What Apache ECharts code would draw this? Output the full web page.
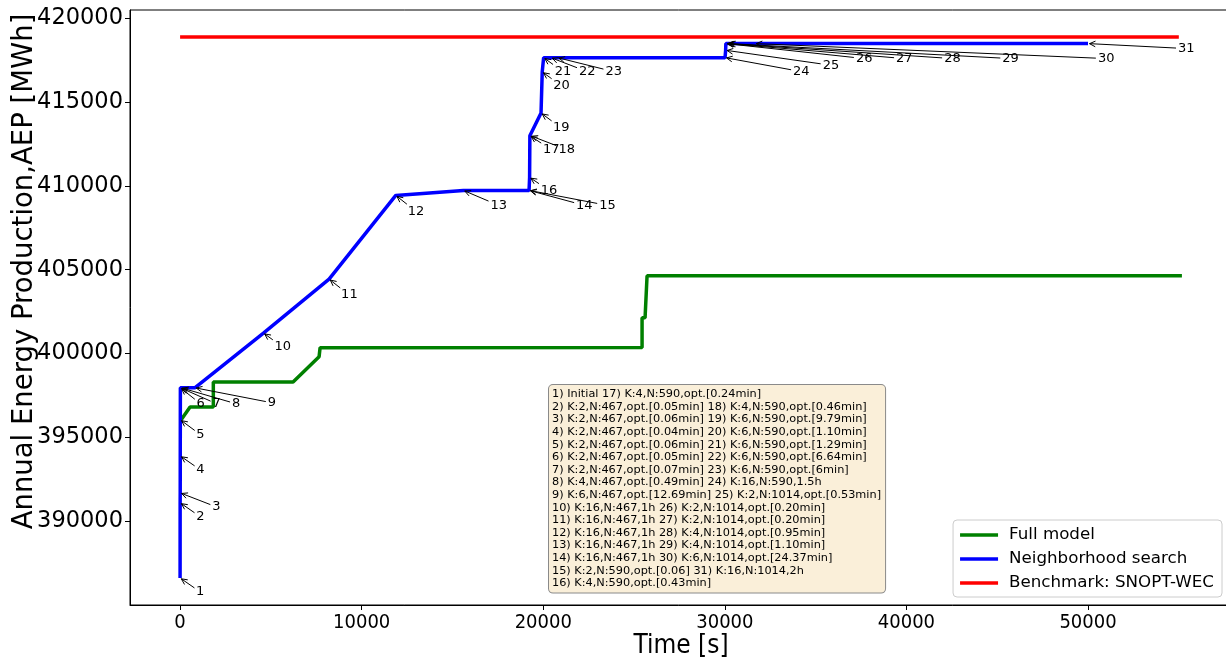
<!DOCTYPE html>
<html>
<head>
<meta charset="utf-8">
<script src="https://cdn.jsdelivr.net/npm/echarts@6/dist/echarts.min.js"></script>
<style>
html,body{margin:0;padding:0;background:#fff;}
#chart{width:1226px;height:658px;}
</style>
</head>
<body>
<div id="chart"></div>
<script>
// ---- data ----
const nsTime = [0, 3, 6.6, 9, 12.6, 15.6, 19.8, 49.2, 810, 4590, 8205, 11878, 15600, 19218, 19222, 19248, 19262, 19290, 19877, 19943, 20020, 20418, 20778, 30011, 30043, 30055, 30067, 30124, 30190, 31652, 50000];
const nsAEP = [386590, 391080, 391670, 393880, 396040, 397950, 397950, 397950, 397950, 401220, 404440, 409440, 409740, 409740, 409740, 410520, 413010, 413010, 414360, 416820, 417670, 417670, 417670, 417670, 418110, 418510, 418510, 418510, 418510, 418510, 418510];
const fullTime = [60, 550, 1830, 1830, 6222, 7654, 7709, 25441, 25441, 25606, 25716, 55170];
const fullAEP = [396040, 396800, 396800, 398300, 398300, 399800, 400340, 400360, 402130, 402130, 404640, 404640];
const benchTime = [0, 55000];
const benchAEP = [418900, 418900];
const xTicks = [0, 10000, 20000, 30000, 40000, 50000];
const yTicks = [390000, 395000, 400000, 405000, 410000, 415000, 420000];
const seriesNames = ['Full model', 'Neighborhood search', 'Benchmark: SNOPT-WEC'];
const annLabels = ['1','2','3','4','5','6','7','8','9','10','11','12','13','14','15','16','17','18','19','20','21','22','23','24','25','26','27','28','29','30','31'];
const boxLines = [
"1) Initial 17) K:4,N:590,opt.[0.24min]",
"2) K:2,N:467,opt.[0.05min] 18) K:4,N:590,opt.[0.46min]",
"3) K:2,N:467,opt.[0.06min] 19) K:6,N:590,opt.[9.79min]",
"4) K:2,N:467,opt.[0.04min] 20) K:6,N:590,opt.[1.10min]",
"5) K:2,N:467,opt.[0.06min] 21) K:6,N:590,opt.[1.29min]",
"6) K:2,N:467,opt.[0.05min] 22) K:6,N:590,opt.[6.64min]",
"7) K:2,N:467,opt.[0.07min] 23) K:6,N:590,opt.[6min]",
"8) K:4,N:467,opt.[0.49min] 24) K:16,N:590,1.5h",
"9) K:6,N:467,opt.[12.69min] 25) K:2,N:1014,opt.[0.53min]",
"10) K:16,N:467,1h 26) K:2,N:1014,opt.[0.20min]",
"11) K:16,N:467,1h 27) K:2,N:1014,opt.[0.20min]",
"12) K:16,N:467,1h 28) K:4,N:1014,opt.[0.95min]",
"13) K:16,N:467,1h 29) K:4,N:1014,opt.[1.10min]",
"14) K:16,N:467,1h 30) K:6,N:1014,opt.[24.37min]",
"15) K:2,N:590,opt.[0.06] 31) K:16,N:1014,2h",
"16) K:4,N:590,opt.[0.43min]"
];

// ---- styling: label offsets (text left, text centre) in px from the point ----
const annOffsets = [[16,14],[16,14],[32,14],[16,14],[16,15],[16,16],[32,16],[51,16],[73,15],[11,14],
  [12,16],[12,16],[27,15],[47,15],[70,15],[11,13],[13,14],[28,14],[12,15],[11,14],
  [11,14],[28,14],[48,14],[68,14],[97,15],[130,15],[170,15],[217,15],[274,15],[343,15],[90,5]];

const zip = (a, b) => a.map((v, i) => [v, b[i]]);
const allX = nsTime.concat(fullTime, benchTime);
const allY = nsAEP.concat(fullAEP, benchAEP);
const xMinD = Math.min(...allX), xMaxD = Math.max(...allX);
const yMinD = Math.min(...allY), yMaxD = Math.max(...allY);
const xm = 0.05 * (xMaxD - xMinD), ym = 0.05 * (yMaxD - yMinD);

const annData = nsTime.map((t, i) => [t, nsAEP[i], i]);

function renderAnn(params, api) {
  const i = api.value(2);
  const p = api.coord([api.value(0), api.value(1)]);
  const off = annOffsets[i];
  const label = annLabels[i];
  const w = label.length * 8.3, h = 12;
  const cx = p[0] + off[0] + w / 2, cy = p[1] + off[1];
  const dx = p[0] - cx, dy = p[1] - cy;
  const len = Math.hypot(dx, dy) || 1;
  const ux = dx / len, uy = dy / len;
  const t = Math.min((w / 2) / Math.max(Math.abs(ux), 1e-9), (h / 2) / Math.max(Math.abs(uy), 1e-9));
  const sx = cx + ux * (t + 2), sy = cy + uy * (t + 2);
  const ex = p[0] - ux * 1.5, ey = p[1] - uy * 1.5;
  const a = Math.atan2(-uy, -ux), hl = 6.5, ang = 0.45;
  const h1 = [ex + hl * Math.cos(a + ang), ey + hl * Math.sin(a + ang)];
  const h2 = [ex + hl * Math.cos(a - ang), ey + hl * Math.sin(a - ang)];
  return {
    type: 'group',
    children: [
      {type: 'line', shape: {x1: sx, y1: sy, x2: ex, y2: ey}, style: {stroke: '#000', lineWidth: 1}},
      {type: 'polyline', shape: {points: [h1, [ex, ey], h2]}, style: {stroke: '#000', lineWidth: 1, fill: null}},
      {type: 'text', x: cx, y: cy, style: {text: label, font: '13px "DejaVu Sans"', fill: '#000', align: 'center', verticalAlign: 'middle'}}
    ]
  };
}

const chart = echarts.init(document.getElementById('chart'), null, {renderer: 'canvas'});
const narrow = '"Liberation Sans Narrow", "DejaVu Sans Condensed", "DejaVu Sans"';
chart.setOption({
  animation: false,
  backgroundColor: '#fff',
  grid: {left: 130, top: 10, width: 1102, height: 595, show: true, borderColor: '#000', borderWidth: 1, backgroundColor: 'transparent', containLabel: false, outerBoundsMode: 'none'},
  xAxis: {
    type: 'value', min: xMinD - xm, max: xMaxD + xm,
    name: 'Time [s]', nameLocation: 'middle', nameGap: 28, nameMoveOverlap: false,
    nameTextStyle: {fontFamily: narrow, fontSize: 26, color: '#000'},
    axisLine: {show: true, onZero: false, lineStyle: {color: '#000', width: 1}},
    axisTick: {show: true, length: 5, lineStyle: {color: '#000'}, customValues: xTicks},
    axisLabel: {customValues: xTicks, formatter: v => String(v), fontFamily: narrow, fontSize: 20, color: '#000', margin: 8},
    splitLine: {show: false}
  },
  yAxis: {
    type: 'value', min: yMinD - ym, max: yMaxD + ym,
    name: 'Annual Energy Production,AEP [MWh]', nameLocation: 'middle', nameGap: 91, nameRotate: 90, nameMoveOverlap: false,
    nameTextStyle: {fontFamily: 'DejaVu Sans', fontSize: 27.5, color: '#000', padding: [0, 0, 0, 72]},
    axisLine: {show: true, onZero: false, lineStyle: {color: '#000', width: 1}},
    axisTick: {show: true, length: 5, lineStyle: {color: '#000'}, customValues: yTicks},
    axisLabel: {customValues: yTicks, formatter: v => String(v), fontFamily: 'DejaVu Sans', fontSize: 22.5, color: '#000', margin: 7},
    splitLine: {show: false}
  },
  legend: {
    data: seriesNames,
    orient: 'vertical', right: 4, bottom: 61,
    icon: 'rect', itemWidth: 38, itemHeight: 3.5, itemGap: 6,
    backgroundColor: 'rgba(255,255,255,0.8)', borderColor: '#ccc', borderWidth: 1, borderRadius: 4,
    padding: [6, 8, 5, 7],
    textStyle: {fontFamily: 'DejaVu Sans', fontSize: 16.7, color: '#000', lineHeight: 18, padding: [0, 0, 0, 6]}
  },
  graphic: [{
    type: 'text', left: 548, top: 384, z: 100,
    style: {
      text: boxLines.join('\n'), font: '11.3px "DejaVu Sans"', lineHeight: 12.6, fill: '#000',
      backgroundColor: '#faefd9', borderColor: '#8a8a8a', borderWidth: 1, borderRadius: 4, padding: [3, 4, 3, 3]
    }
  }],
  series: [
    {name: seriesNames[0], type: 'line', data: zip(fullTime, fullAEP), showSymbol: false, color: '#008000', lineStyle: {width: 3.5, color: '#008000'}, z: 2},
    {name: seriesNames[1], type: 'line', data: zip(nsTime, nsAEP), showSymbol: false, color: '#0000ff', lineStyle: {width: 3.5, color: '#0000ff'}, z: 3},
    {name: seriesNames[2], type: 'line', data: zip(benchTime, benchAEP), showSymbol: false, color: '#ff0000', lineStyle: {width: 3.5, color: '#ff0000'}, z: 2},
    {name: 'annotations', type: 'custom', renderItem: renderAnn, data: annData, clip: false, z: 5, silent: true}
  ]
});
</script>
</body>
</html>
